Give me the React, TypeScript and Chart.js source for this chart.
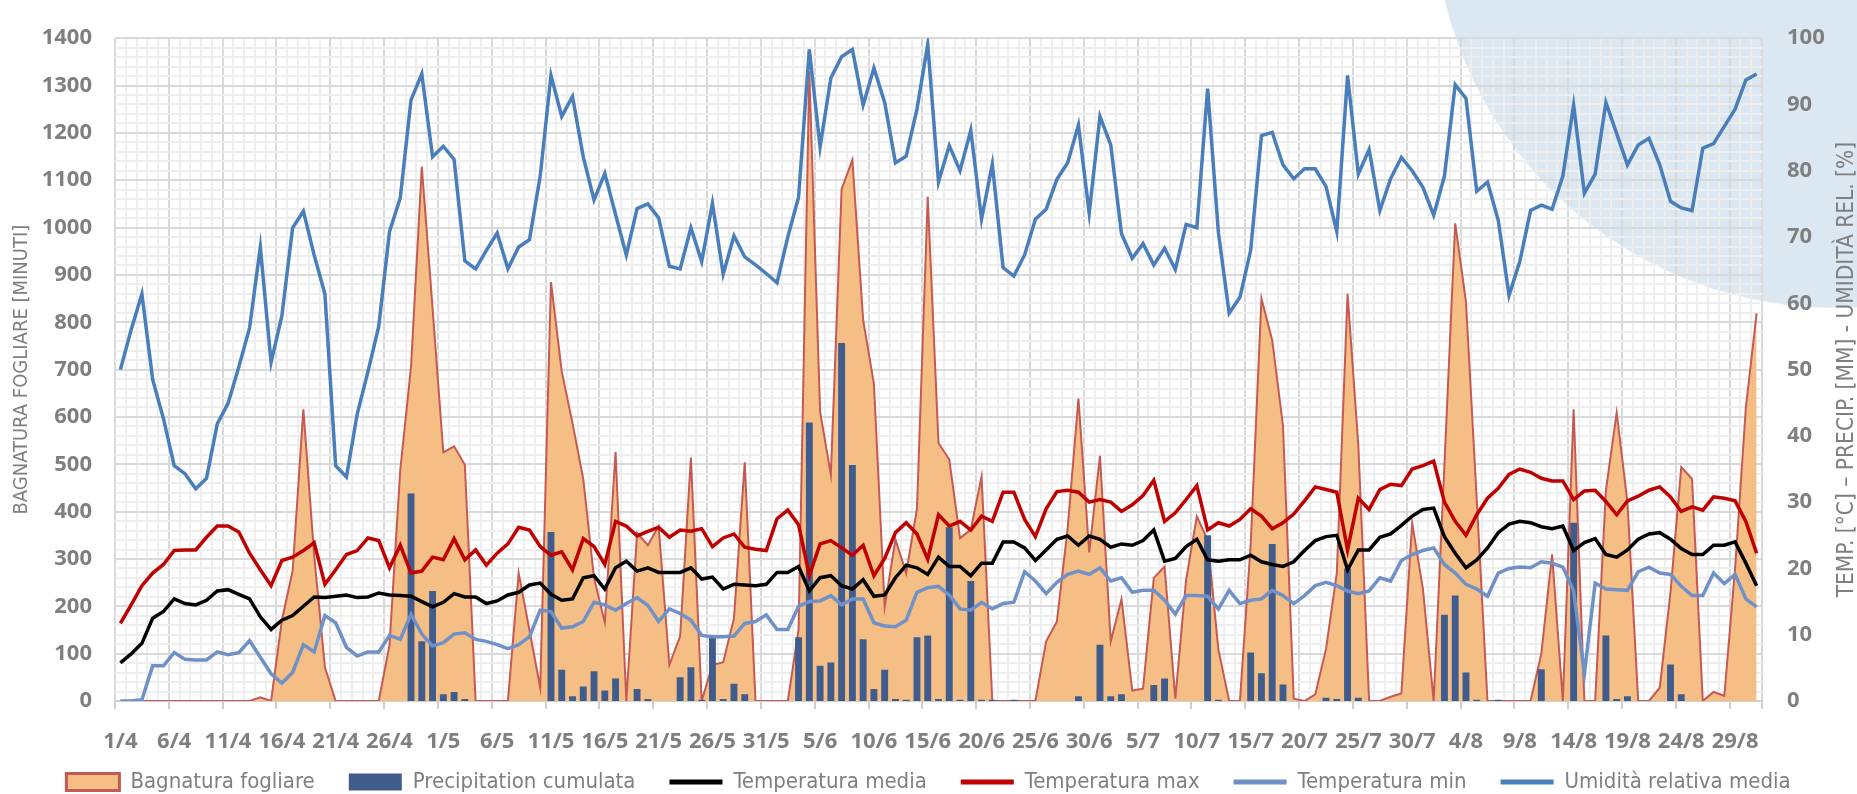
import React, { useEffect, useRef } from 'react';
import { Chart, registerables } from 'chart.js';

Chart.register(...registerables);

// Categories: daily dates from 1 April to 31 August
const MONTHS: [number, number][] = [[4, 30], [5, 31], [6, 30], [7, 31], [8, 31]];
const DAYS: string[] = MONTHS.flatMap(([m, n]) => Array.from({ length: n }, (_, k) => `${k + 1}/${m}`));

// Bagnatura fogliare [minuti] (left axis)
const BAGNATURA = [
  0, 0, 0, 0, 0, 0, 0, 0, 0, 0,
  0, 0, 0, 8, 0, 170, 275, 616, 308, 71,
  0, 0, 0, 0, 0, 118, 488, 706, 1129, 830,
  525, 538, 499, 0, 0, 0, 0, 270, 150, 28,
  885, 696, 587, 469, 260, 166, 526, 0, 355, 329,
  369, 76, 137, 514, 0, 76, 82, 175, 504, 0,
  0, 0, 0, 150, 1330, 611, 478, 1081, 1143, 805,
  670, 199, 341, 270, 407, 1065, 545, 510, 344, 362,
  474, 0, 0, 0, 0, 0, 126, 168, 365, 639,
  314, 518, 126, 215, 22, 26, 260, 284, 5, 256,
  390, 340, 109, 0, 0, 330, 850, 762, 582, 5,
  0, 14, 110, 270, 860, 540, 0, 0, 9, 16,
  376, 237, 0, 500, 1009, 843, 426, 0, 0, 0,
  0, 0, 100, 310, 0, 616, 0, 0, 445, 609,
  420, 0, 0, 28, 230, 494, 469, 0, 19, 11,
  280, 620, 819,
];

// Precipitation cumulata [mm] (right axis)
const PRECIP = [
  0, 0, 0, 0, 0, 0, 0, 0, 0, 0,
  0, 0, 0, 0, 0, 0, 0, 0, 0, 0,
  0, 0, 0, 0, 0, 0, 0, 31.3, 9.0, 16.6,
  1.0, 1.35, 0.3, 0, 0, 0, 0, 0, 0, 0,
  25.5, 4.7, 0.7, 2.2, 4.5, 1.6, 3.4, 0, 1.8, 0.3,
  0, 0, 3.6, 5.1, 0.2, 9.5, 0.3, 2.6, 1.0, 0,
  0, 0, 0, 9.6, 42.0, 5.3, 5.8, 54.0, 35.6, 9.3,
  1.8, 4.7, 0.3, 0.2, 9.6, 9.9, 0.3, 26.2, 0.2, 18.1,
  0.2, 0.2, 0, 0.2, 0, 0, 0, 0, 0, 0.7,
  0, 8.5, 0.7, 1.0, 0, 0, 2.4, 3.4, 0, 0,
  0, 25.0, 0.2, 0, 0, 7.3, 4.2, 23.7, 2.5, 0,
  0, 0, 0.5, 0.3, 20.0, 0.5, 0, 0, 0, 0,
  0, 0, 0, 13.0, 15.9, 4.3, 0.2, 0, 0.2, 0,
  0, 0, 4.8, 0, 0, 26.9, 0, 0, 9.9, 0.3,
  0.7, 0, 0, 0, 5.5, 1.0, 0, 0, 0, 0,
  0, 0, 0,
];

// Temperatura media [°C]
const TMED = [
  5.75, 7.1, 8.7, 12.5, 13.5, 15.4, 14.7, 14.5, 15.2, 16.6,
  16.8, 16.1, 15.4, 12.7, 10.8, 12.2, 12.9, 14.3, 15.7, 15.6,
  15.8, 16.0, 15.6, 15.7, 16.3, 16.0, 15.9, 15.8, 15.0, 14.2,
  14.9, 16.2, 15.7, 15.7, 14.7, 15.1, 16.0, 16.4, 17.5, 17.8,
  16.1, 15.2, 15.4, 18.6, 18.9, 16.9, 20.1, 21.1, 19.6, 20.1,
  19.4, 19.4, 19.4, 20.1, 18.4, 18.7, 16.9, 17.6, 17.5, 17.4,
  17.6, 19.4, 19.4, 20.3, 16.6, 18.6, 18.9, 17.4, 16.9, 18.3,
  15.8, 16.0, 18.6, 20.5, 20.1, 19.1, 21.7, 20.3, 20.3, 18.9,
  20.8, 20.8, 24.0, 24.0, 23.1, 21.2, 22.8, 24.4, 24.9, 23.5,
  24.9, 24.4, 23.2, 23.7, 23.5, 24.2, 25.8, 21.1, 21.5, 23.3,
  24.4, 21.3, 21.1, 21.3, 21.3, 22.0, 21.0, 20.6, 20.3, 21.0,
  22.7, 24.2, 24.8, 25.0, 19.8, 22.8, 22.8, 24.7, 25.2, 26.5,
  27.9, 28.9, 29.1, 24.8, 22.3, 20.1, 21.3, 23.1, 25.4, 26.7,
  27.1, 26.9, 26.3, 26.0, 26.4, 22.7, 23.9, 24.5, 22.1, 21.7,
  22.8, 24.4, 25.2, 25.4, 24.4, 23.0, 22.1, 22.1, 23.5, 23.5,
  24.0, 20.8, 17.4,
];

// Temperatura max [°C]
const TMAX = [
  11.7, 14.5, 17.4, 19.3, 20.6, 22.7, 22.8, 22.8, 24.7, 26.4,
  26.4, 25.5, 22.3, 19.8, 17.4, 21.2, 21.7, 22.7, 23.9, 17.6,
  19.8, 22.1, 22.7, 24.6, 24.2, 20.1, 23.5, 19.3, 19.6, 21.7,
  21.3, 24.5, 21.3, 22.8, 20.5, 22.3, 23.7, 26.2, 25.8, 23.3,
  22.0, 22.5, 19.8, 24.5, 23.3, 20.6, 27.1, 26.4, 24.9, 25.6,
  26.2, 24.7, 25.8, 25.6, 26.0, 23.3, 24.6, 25.2, 23.2, 22.9,
  22.7, 27.5, 28.8, 26.6, 18.9, 23.7, 24.2, 23.1, 22.0, 23.5,
  18.9, 21.5, 25.4, 26.9, 25.2, 21.4, 28.1, 26.4, 27.1, 25.8,
  27.9, 27.1, 31.5, 31.5, 27.4, 24.8, 29.0, 31.6, 31.8, 31.5,
  30.0, 30.4, 30.0, 28.6, 29.6, 31.0, 33.3, 27.1, 28.4, 30.4,
  32.5, 25.8, 26.9, 26.4, 27.4, 29.0, 27.9, 26.0, 26.9, 28.2,
  30.2, 32.3, 31.9, 31.5, 22.8, 30.6, 28.9, 31.9, 32.7, 32.5,
  35.0, 35.5, 36.2, 30.0, 27.1, 25.0, 28.1, 30.6, 32.1, 34.2,
  35.0, 34.5, 33.6, 33.2, 33.2, 30.4, 31.7, 31.8, 30.1, 28.1,
  30.2, 30.9, 31.8, 32.3, 30.8, 28.6, 29.3, 28.8, 30.8, 30.6,
  30.2, 27.1, 22.3,
];

// Temperatura min [°C]
const TMIN = [
  0, 0, 0.2, 5.3, 5.3, 7.3, 6.3, 6.2, 6.2, 7.4,
  7.0, 7.3, 9.1, 6.6, 4.1, 2.7, 4.3, 8.5, 7.4, 12.9,
  11.8, 8.1, 6.8, 7.4, 7.4, 9.9, 9.3, 13.1, 10.1, 8.3,
  8.8, 10.1, 10.3, 9.3, 9.0, 8.5, 7.9, 8.5, 9.7, 13.7,
  13.5, 11.0, 11.2, 12.0, 14.9, 14.5, 13.7, 14.7, 15.6, 14.4,
  12.0, 13.9, 13.2, 12.2, 9.9, 9.7, 9.7, 9.8, 11.7, 12.0,
  13.0, 10.8, 10.8, 14.3, 15.0, 15.1, 15.9, 14.5, 15.4, 15.4,
  11.8, 11.3, 11.2, 12.2, 16.4, 17.1, 17.3, 16.0, 13.9, 13.7,
  14.9, 13.9, 14.7, 14.9, 19.5, 18.1, 16.2, 17.9, 19.1, 19.6,
  19.1, 20.1, 18.1, 18.6, 16.4, 16.7, 16.7, 15.2, 13.1, 15.9,
  15.9, 15.8, 13.9, 16.7, 14.7, 15.2, 15.4, 16.7, 15.9, 14.7,
  15.9, 17.4, 17.9, 17.4, 16.6, 16.2, 16.6, 18.6, 18.1, 21.2,
  22.1, 22.7, 23.1, 20.6, 19.3, 17.6, 16.9, 15.8, 19.3, 20.0,
  20.2, 20.1, 21.0, 20.8, 20.2, 16.6, 4.1, 17.8, 16.9, 16.8,
  16.7, 19.5, 20.2, 19.3, 19.1, 17.3, 15.9, 15.9, 19.3, 17.7,
  19.1, 15.4, 14.2,
];

// Umidità relativa media [%]
const UMIDITA = [
  50, 56, 61.4, 48.5, 42.6, 35.5, 34.3, 32.0, 33.6, 41.8,
  44.9, 50.4, 56.3, 68.5, 51.1, 58.1, 71.4, 73.9, 67.3, 61.4,
  35.5, 33.8, 43.3, 49.7, 56.5, 70.8, 75.9, 90.7, 94.6, 82.1,
  83.7, 81.7, 66.4, 65.2, 68.0, 70.6, 65.2, 68.5, 69.6, 79.2,
  94.4, 88.2, 91.2, 82.1, 75.6, 79.6, 73.4, 67.3, 74.3, 75.0,
  72.9, 65.6, 65.2, 71.4, 66.3, 75.1, 64.4, 70.2, 67.0, 65.8,
  64.5, 63.1, 70.0, 76.0, 98.3, 83.6, 94.0, 97.2, 98.3, 89.9,
  95.5, 90.3, 81.2, 82.2, 89.3, 99.1, 78.3, 83.8, 80.0, 86.1,
  72.7, 81.0, 65.4, 64.1, 67.3, 72.7, 74.2, 78.7, 81.2, 86.9,
  73.6, 88.2, 83.9, 70.5, 66.8, 69.0, 65.8, 68.3, 65.1, 71.9,
  71.4, 92.4, 70.7, 58.5, 60.9, 68.0, 85.3, 85.8, 80.9, 78.8,
  80.3, 80.3, 77.6, 70.8, 94.4, 79.5, 83.2, 74.0, 78.8, 82.0,
  80.0, 77.5, 73.3, 79.2, 93.0, 90.9, 76.9, 78.3, 72.5, 61.2,
  66.3, 74.0, 74.8, 74.2, 79.2, 89.9, 76.6, 79.5, 90.3, 85.6,
  80.9, 83.9, 84.9, 80.9, 75.4, 74.4, 74.0, 83.4, 84.1, 86.7,
  89.3, 93.7, 94.6,
];

const LEFT_TITLE = 'BAGNATURA FOGLIARE [MINUTI]';
const RIGHT_TITLE = 'TEMP. [°C] – PRECIP. [MM] - UMIDITÀ REL. [%]';

const GREY = '#7f7f7f';
const GRID_MAJOR = '#d9d9d9';
const GRID_MINOR = '#eeeeee';
const TICK_FONT = 'Open Sans';
const NARROW_FONT = '"DejaVu Sans Condensed", "DejaVu Sans", sans-serif';
const LEGEND_SIZE = 22;
const LEGEND_PAD = 34;
const LEGEND_CENTER_Y = 782;

const rightTitlePlugin = {
  id: 'rightTitle',
  afterDraw(chart: any) {
    const { ctx, chartArea } = chart;
    ctx.save();
    ctx.translate(chart.width - 10, (chartArea.top + chartArea.bottom) / 2);
    ctx.rotate(-Math.PI / 2);
    ctx.font = `22.5px ${NARROW_FONT}`;
    ctx.fillStyle = GREY;
    ctx.textAlign = 'center';
    ctx.textBaseline = 'middle';
    ctx.fillText(RIGHT_TITLE, 0, 0);
    ctx.restore();
  },
};

// keeps the x labels band tall enough while placing the legend row where the reference has it
const legendPlacePlugin = {
  id: 'legendPlace',
  afterLayout(chart: any) {
    const lg = chart.legend;
    if (!lg) return;
    const top = LEGEND_CENTER_Y - LEGEND_PAD - LEGEND_SIZE / 2;
    lg.top = top;
    lg.bottom = chart.height;
    lg.height = chart.height - top;
  },
};

export default function App() {
  const ref = useRef<HTMLCanvasElement>(null);

  useEffect(() => {
    const canvas = ref.current;
    if (!canvas) return;

    const chart = new Chart(canvas, {
      type: 'bar',
      data: {
        labels: DAYS,
        datasets: [
          {
            type: 'line',
            label: 'Bagnatura fogliare',
            data: BAGNATURA,
            yAxisID: 'y',
            fill: 'origin',
            backgroundColor: '#f5be84',
            borderColor: '#c55a54',
            borderWidth: 2,
            pointRadius: 0,
            tension: 0,
            order: 6,
          },
          {
            type: 'bar',
            label: 'Precipitation cumulata',
            data: PRECIP,
            yAxisID: 'y1',
            backgroundColor: '#3f5c8c',
            barPercentage: 0.64,
            categoryPercentage: 1,
            order: 5,
          },
          {
            type: 'line',
            label: 'Temperatura media',
            data: TMED,
            yAxisID: 'y1',
            borderColor: '#000000',
            backgroundColor: '#000000',
            borderWidth: 3.5,
            pointRadius: 0,
            fill: false,
            order: 3,
          },
          {
            type: 'line',
            label: 'Temperatura max',
            data: TMAX,
            yAxisID: 'y1',
            borderColor: '#c00000',
            backgroundColor: '#c00000',
            borderWidth: 3.5,
            pointRadius: 0,
            fill: false,
            order: 2,
          },
          {
            type: 'line',
            label: 'Temperatura min',
            data: TMIN,
            yAxisID: 'y1',
            borderColor: '#6f91c8',
            backgroundColor: '#6f91c8',
            borderWidth: 3.5,
            pointRadius: 0,
            fill: false,
            order: 4,
          },
          {
            type: 'line',
            label: 'Umidità relativa media',
            data: UMIDITA,
            yAxisID: 'y1',
            borderColor: '#4a7ebb',
            backgroundColor: '#4a7ebb',
            borderWidth: 3.5,
            pointRadius: 0,
            fill: false,
            order: 1,
          },
        ],
      },
      options: {
        responsive: false,
        animation: false,
        layout: { padding: 0 },
        plugins: {
          tooltip: { enabled: false },
          legend: {
            position: 'bottom',
            maxHeight: 38,
            labels: {
              usePointStyle: true,
              pointStyleWidth: 53,
              boxHeight: 17,
              padding: LEGEND_PAD,
              color: GREY,
              font: { family: NARROW_FONT, size: LEGEND_SIZE },
              generateLabels: (ch: any) =>
                ch.data.datasets.map((ds: any, i: number) => {
                  const isArea = ds.fill === 'origin';
                  const isBar = ds.type === 'bar';
                  return {
                    text: ds.label,
                    datasetIndex: i,
                    hidden: false,
                    fontColor: GREY,
                    fillStyle: ds.backgroundColor,
                    strokeStyle: ds.borderColor || ds.backgroundColor,
                    lineWidth: isArea ? 3 : isBar ? 0 : 5,
                    pointStyle: isArea || isBar ? 'rect' : 'line',
                  };
                }),
            },
          },
        },
        scales: {
          x: {
            type: 'category',
            offset: true,
            afterFit: (s: any) => { s.height = 55; },
            grid: {
              offset: true,
              drawTicks: true,
              tickLength: 8,
              lineWidth: 2,
              color: (c: any) => (c.index === undefined || c.index % 5 === 0 ? GRID_MAJOR : GRID_MINOR),
              tickColor: (c: any) => (c.index === undefined || c.index % 5 === 0 ? '#cfcfcf' : 'rgba(0,0,0,0)'),
            },
            border: { display: true, color: '#d0d0d0', width: 2 },
            ticks: {
              autoSkip: false,
              maxRotation: 0,
              minRotation: 0,
              padding: 20,
              color: GREY,
              font: { family: TICK_FONT, size: 22, weight: 'bold' },
              callback: (_v: any, idx: number) => (idx % 5 === 0 ? DAYS[idx] : ''),
            },
          },
          y: {
            position: 'left',
            min: 0,
            max: 1400,
            afterFit: (s: any) => { s.width = 115; },
            grid: {
              drawTicks: false,
              lineWidth: 2,
              color: (c: any) => (!c.tick || c.tick.value % 100 === 0 ? GRID_MAJOR : GRID_MINOR),
            },
            border: { display: false },
            ticks: {
              stepSize: 20,
              autoSkip: false,
              padding: 23,
              color: GREY,
              font: { family: TICK_FONT, size: 22, weight: 'bold' },
              callback: (v: any) => (Number(v) % 100 === 0 ? String(v) : ''),
            },
            title: {
              display: true,
              text: LEFT_TITLE,
              color: GREY,
              padding: { top: 10, bottom: 0 },
              font: { family: NARROW_FONT, size: 20 },
            },
          },
          y1: {
            position: 'right',
            min: 0,
            max: 100,
            afterFit: (s: any) => { s.width = 95; },
            grid: { display: false, drawOnChartArea: false, drawTicks: false },
            border: { display: false },
            ticks: {
              stepSize: 10,
              autoSkip: false,
              padding: 25,
              color: GREY,
              font: { family: TICK_FONT, size: 22, weight: 'bold' },
            },
          },
        },
      },
      plugins: [rightTitlePlugin, legendPlacePlugin],
    } as any);

    return () => chart.destroy();
  }, []);

  return (
    <div
      style={{
        position: 'absolute',
        left: 0,
        top: 0,
        width: 1857,
        height: 794,
        background:
          'radial-gradient(circle 403px at 1836px -95px, #dbe8f1 0px, #dbe8f1 402px, rgba(255,255,255,0) 403.5px), #ffffff',
      }}
    >
      <canvas ref={ref} width={1857} height={794} style={{ display: 'block' }} />
    </div>
  );
}
